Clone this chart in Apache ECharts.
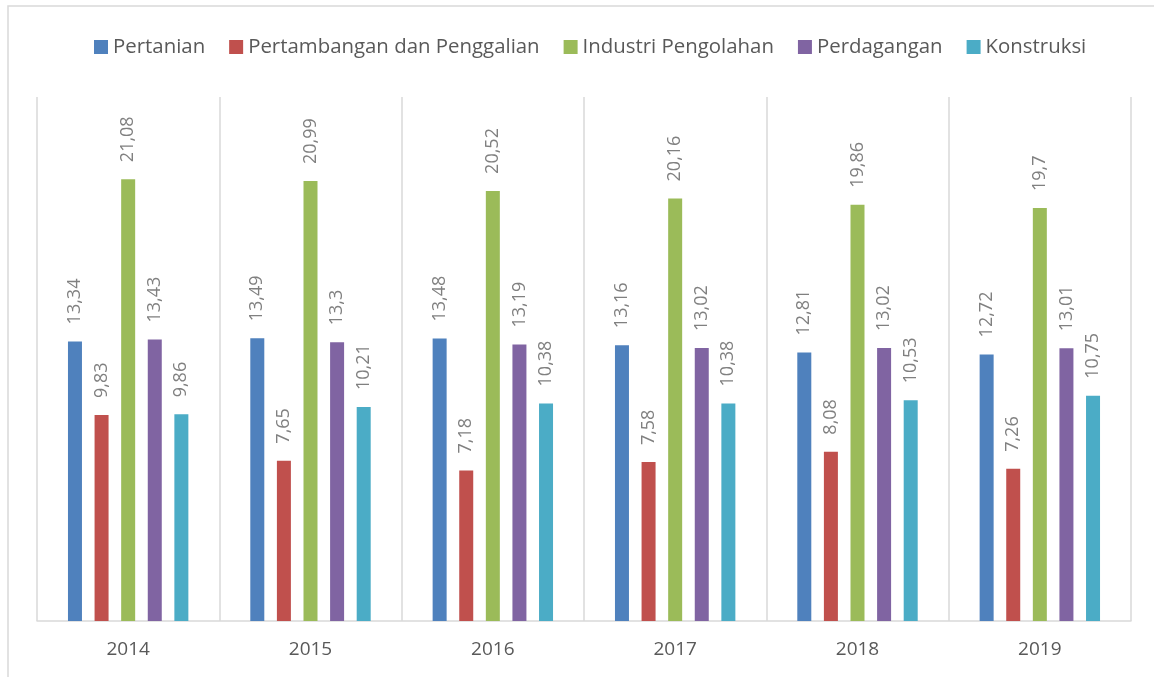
<!DOCTYPE html>
<html>
<head>
<meta charset="utf-8">
<script src="https://cdn.jsdelivr.net/npm/echarts@6/dist/echarts.min.js"></script>
<style>
	html, body { margin: 0; padding: 0; background: #fff; }
	#chart { width: 1154px; height: 677px; }
</style>
</head>
<body>
<div id="chart"></div>
<script>
var years = ['2014', '2015', '2016', '2017', '2018', '2019'];
var seriesNames = ['Pertanian', 'Pertambangan dan Penggalian', 'Industri Pengolahan', 'Perdagangan', 'Konstruksi'];
var pertanian = [13.34, 13.49, 13.48, 13.16, 12.81, 12.72];
var pertambangan = [9.83, 7.65, 7.18, 7.58, 8.08, 7.26];
var industri = [21.08, 20.99, 20.52, 20.16, 19.86, 19.7];
var perdagangan = [13.43, 13.3, 13.19, 13.02, 13.02, 13.01];
var konstruksi = [9.86, 10.21, 10.38, 10.38, 10.53, 10.75];
var colors = ['#4f81bd', '#c0504d', '#9bbb59', '#8064a2', '#4bacc6'];

var values = [pertanian, pertambangan, industri, perdagangan, konstruksi];
var font = '"Open Sans", "Noto Sans", sans-serif';

var series = values.map(function (data, i) {
	return {
		name: seriesNames[i],
		type: 'bar',
		data: data,
		barWidth: 14,
		barGap: '90%',
		barCategoryGap: '34%',
		itemStyle: { color: colors[i] },
		label: {
			show: true,
			position: 'top',
			rotate: 90,
			align: 'left',
			verticalAlign: 'middle',
			distance: 17,
			color: '#808080',
			fontSize: 18,
			fontFamily: font,
			formatter: function (p) { return String(p.value).replace('.', ','); }
		}
	};
});

var option = {
	color: colors,
	animation: false,
	graphic: [{
		type: 'rect',
		shape: { x: 8, y: 6, width: 1200, height: 720 },
		style: { fill: 'none', stroke: '#d9d9d9', lineWidth: 1.5 },
		silent: true
	}],
	legend: {
		data: seriesNames,
		left: 89,
		top: 32,
		icon: 'rect',
		itemWidth: 14,
		itemHeight: 14,
		itemGap: 24,
		textStyle: { color: '#595959', fontSize: 20.4, fontFamily: font }
	},
	grid: { left: 37, right: 23, top: 97, bottom: 56 },
	xAxis: {
		type: 'category',
		data: years,
		axisLine: { lineStyle: { color: '#d9d9d9', width: 1.5 } },
		axisTick: { show: false },
		splitLine: { show: true, lineStyle: { color: '#d9d9d9', width: 1.5 } },
		axisLabel: { color: '#595959', fontSize: 19, fontFamily: font, margin: 19 }
	},
	yAxis: {
		type: 'value',
		min: 0,
		max: 25,
		show: false,
		splitLine: { show: false }
	},
	series: series
};

echarts.init(document.getElementById('chart')).setOption(option);
</script>
</body>
</html>
